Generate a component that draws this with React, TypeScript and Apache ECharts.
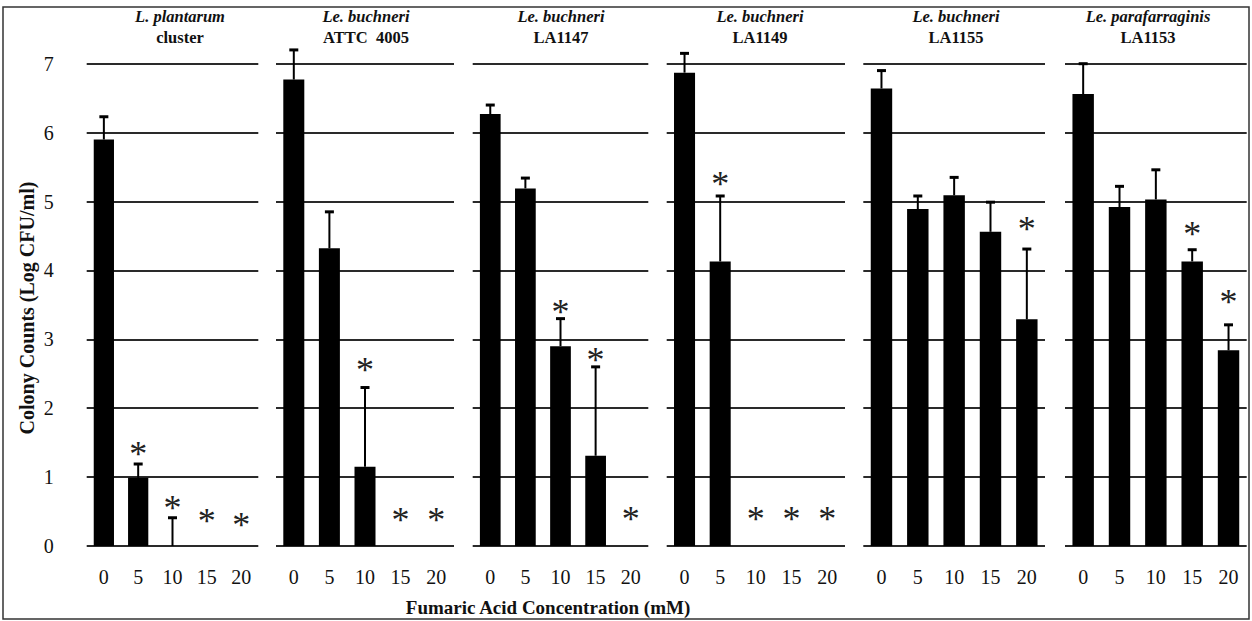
import React, { useEffect, useRef } from "react";
import * as echarts from "echarts";

const categories = ["0", "5", "10", "15", "20"];
const titleLine1 = ["L. plantarum", "Le. buchneri", "Le. buchneri", "Le. buchneri", "Le. buchneri", "Le. parafarraginis"];
const titleLine2 = ["cluster", "ATTC  4005", "LA1147", "LA1149", "LA1155", "LA1153"];
const yTicks = [0, 1, 2, 3, 4, 5, 6, 7];

const means1 = [5.9, 0.99, 0, 0, 0];
const means2 = [6.77, 4.32, 1.15, 0, 0];
const means3 = [6.27, 5.19, 2.9, 1.31, 0];
const means4 = [6.87, 4.13, 0, 0, 0];
const means5 = [6.64, 4.89, 5.09, 4.56, 3.29];
const means6 = [6.56, 4.92, 5.03, 4.13, 2.84];

const sd1 = [0.33, 0.2, 0.41, 0, 0];
const sd2 = [0.43, 0.53, 1.15, 0, 0];
const sd3 = [0.13, 0.15, 0.4, 1.29, 0];
const sd4 = [0.28, 0.95, 0, 0, 0];
const sd5 = [0.26, 0.19, 0.26, 0.43, 1.02];
const sd6 = [0.44, 0.3, 0.43, 0.17, 0.37];

// asterisk (significance) marks: value level at which the mark sits, null = none
const star1 = [null, 1.43, 0.66, 0.47, 0.4];
const star2 = [null, null, 2.65, 0.48, 0.48];
const star3 = [null, null, 3.5, 2.8, 0.49];
const star4 = [null, 5.36, 0.49, 0.49, 0.49];
const star5 = [null, null, null, null, 4.7];
const star6 = [null, null, null, 4.63, 3.65];

const yTitle = "Colony Counts (Log CFU/ml)";
const xTitle = "Fumaric Acid Concentration (mM)";

const allMeans = [means1, means2, means3, means4, means5, means6];
const allSd = [sd1, sd2, sd3, sd4, sd5, sd6];
const allStars = [star1, star2, star3, star4, star5, star6];

const FONT = '"Liberation Serif", "Times New Roman", serif';

// layout (pixels)
const gridLefts = [86.7, 276, 472.7, 666.7, 863.3, 1065];
const gridWidths = [171.6, 178, 175.6, 178.3, 181.7, 181.7];
const gridTop = 63.7;
const gridHeight = 482.3;
const titleCenters = [180, 366, 561, 760, 956, 1148];

export default function App() {
  const ref = useRef<HTMLDivElement>(null);

  useEffect(() => {
    document.body.style.margin = "0";
    if (!ref.current) return;
    const chart = echarts.init(ref.current, null, { renderer: "svg" });

    const grids: any[] = [];
    const xAxes: any[] = [];
    const yAxes: any[] = [];
    const series: any[] = [];
    const graphics: any[] = [];

    for (let p = 0; p < 6; p++) {
      grids.push({ left: gridLefts[p], top: gridTop, width: gridWidths[p], height: gridHeight, containLabel: false });
      xAxes.push({
        type: "category",
        gridIndex: p,
        data: categories,
        axisLine: { show: false },
        axisTick: { show: false },
        axisLabel: { fontFamily: FONT, fontSize: 20, color: "#111", margin: 21 },
      });
      yAxes.push({
        type: "value",
        gridIndex: p,
        min: 0,
        max: 7,
        interval: 1,
        axisLine: { show: false },
        axisTick: { show: false },
        axisLabel: p === 0 ? { fontFamily: FONT, fontSize: 20, color: "#111", margin: 33 } : { show: false },
        splitLine: { show: true, lineStyle: { color: "#2a2a2a", width: 1.8 } },
      });
      series.push({
        type: "bar",
        xAxisIndex: p,
        yAxisIndex: p,
        data: allMeans[p],
        barWidth: "59%",
        itemStyle: { color: "#000" },
        z: 3,
      });
      const errData = allMeans[p].map((m, i) => [i, m, m + allSd[p][i], allSd[p][i]]);
      series.push({
        type: "custom",
        xAxisIndex: p,
        yAxisIndex: p,
        z: 4,
        data: errData,
        renderItem: (params: any, api: any) => {
          const sd = api.value(3);
          if (!sd) return null;
          const base = api.coord([api.value(0), api.value(1)]);
          const top = api.coord([api.value(0), api.value(2)]);
          const cap = 4.5;
          return {
            type: "group",
            children: [
              { type: "line", shape: { x1: base[0], y1: base[1], x2: top[0], y2: top[1] }, style: { stroke: "#000", lineWidth: 2 } },
              { type: "line", shape: { x1: top[0] - cap, y1: top[1], x2: top[0] + cap, y2: top[1] }, style: { stroke: "#000", lineWidth: 3 } },
            ],
          };
        },
      });
      const starData = allStars[p]
        .map((v, i) => (v === null ? null : [i, v]))
        .filter((d) => d !== null);
      series.push({
        type: "custom",
        xAxisIndex: p,
        yAxisIndex: p,
        z: 5,
        data: starData,
        renderItem: (params: any, api: any) => {
          const pt = api.coord([api.value(0), api.value(1)]);
          return {
            type: "text",
            x: pt[0],
            y: pt[1] + 7,
            style: {
              text: "*",
              font: `36px ${FONT}`,
              fill: "#222",
              textAlign: "center",
              textVerticalAlign: "middle",
            },
          };
        },
      });
      graphics.push({
        type: "text",
        x: titleCenters[p],
        y: 16,
        style: { text: titleLine1[p], font: `italic bold 16.5px ${FONT}`, fill: "#111", textAlign: "center", textVerticalAlign: "middle" },
      });
      graphics.push({
        type: "text",
        x: titleCenters[p],
        y: 37,
        style: { text: titleLine2[p], font: `bold 16.5px ${FONT}`, fill: "#111", textAlign: "center", textVerticalAlign: "middle" },
      });
    }

    graphics.push({
      type: "text",
      x: 27,
      y: 308,
      rotation: Math.PI / 2,
      style: { text: yTitle, font: `bold 20px ${FONT}`, fill: "#111", textAlign: "center", textVerticalAlign: "middle" },
    });
    graphics.push({
      type: "text",
      x: 548,
      y: 607,
      style: { text: xTitle, font: `bold 19px ${FONT}`, fill: "#111", textAlign: "center", textVerticalAlign: "middle" },
    });
    graphics.push({
      type: "rect",
      shape: { x: 3, y: 7, width: 1246, height: 612 },
      style: { fill: "none", stroke: "#333", lineWidth: 1.5 },
      z: -1,
    });

    chart.setOption({
      animation: false,
      backgroundColor: "#fff",
      grid: grids,
      xAxis: xAxes,
      yAxis: yAxes,
      series,
      graphic: graphics,
    });

    return () => chart.dispose();
  }, []);

  return <div ref={ref} style={{ width: 1252, height: 621 }} />;
}
